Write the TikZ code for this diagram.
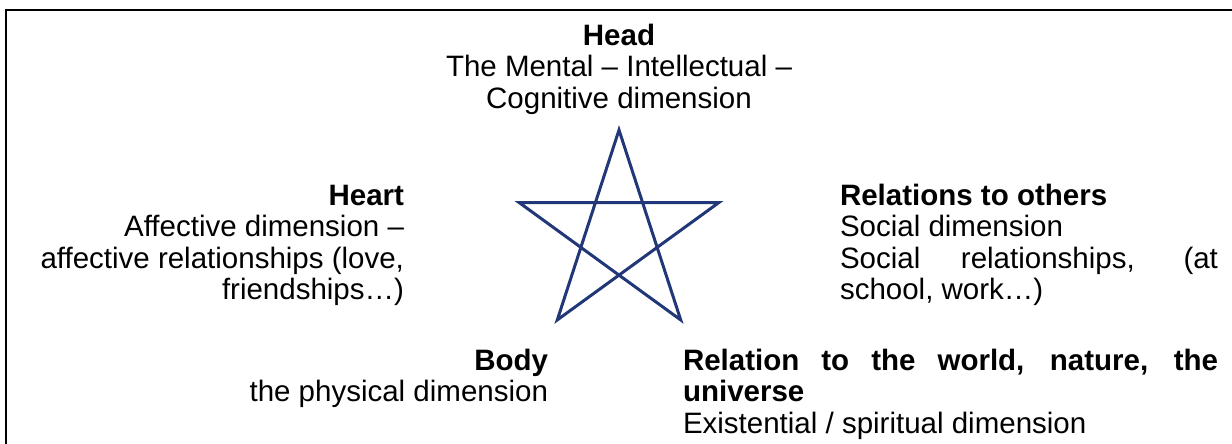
\documentclass[tikz,border=0pt]{standalone}
\usepackage{fontspec}
\setmainfont{Liberation Sans}
\usetikzlibrary{calc}
\setlength{\parindent}{0pt}
\tolerance=9999
\hyphenpenalty=10000
\definecolor{starblue}{RGB}{33,55,120}
\begin{document}
\begin{tikzpicture}[x=1pt,y=-1pt,
  txt/.style={inner sep=0pt,outer sep=0pt,font=\fontsize{29.5}{31.6}\selectfont},
  frameline/.style={line width=2.2pt,black},
  starline/.style={line width=3pt,starblue,line join=miter}]
\useasboundingbox (0,0) rectangle (1232,444);
% frame (top and left edges only visible)
\coordinate (fa) at (6,444);
\coordinate (fb) at (6,10);
\coordinate (fc) at (1232,10);
\draw[frameline] (fa) -- (fb) -- (fc);
% pentagram
\coordinate (sc) at (619,235);
\foreach \i in {0,...,4}{
  \coordinate (p\i) at ($(sc)+({90-72*\i}:105 and -105)$);
}
\draw[starline] (p0) -- (p2) -- (p4) -- (p1) -- (p3) -- cycle;
% texts
\node[txt,anchor=north,align=center] (head) at (619,22.9)
  {\strut\textbf{Head}\\The Mental – Intellectual –\\Cognitive dimension};
\node[txt,anchor=north east,align=right] (heart) at (404,182.9)
  {\strut\textbf{Heart}\\Affective dimension –\\affective relationships (love,\\friendships…)};
\node[txt,anchor=north west,text width=378pt,align=justify] (others) at (840,182.9)
  {\strut\textbf{Relations to others}\par Social dimension\par Social relationships, (at\linebreak school, work…)};
\node[txt,anchor=north east,align=right] (body) at (548,347.9)
  {\strut\textbf{Body}\\the physical dimension};
\node[txt,anchor=north west,text width=535pt,align=justify] (world) at (683,347.9)
  {\strut\textbf{Relation to the world, nature, the\linebreak universe}\par Existential / spiritual dimension};
\end{tikzpicture}
\end{document}
